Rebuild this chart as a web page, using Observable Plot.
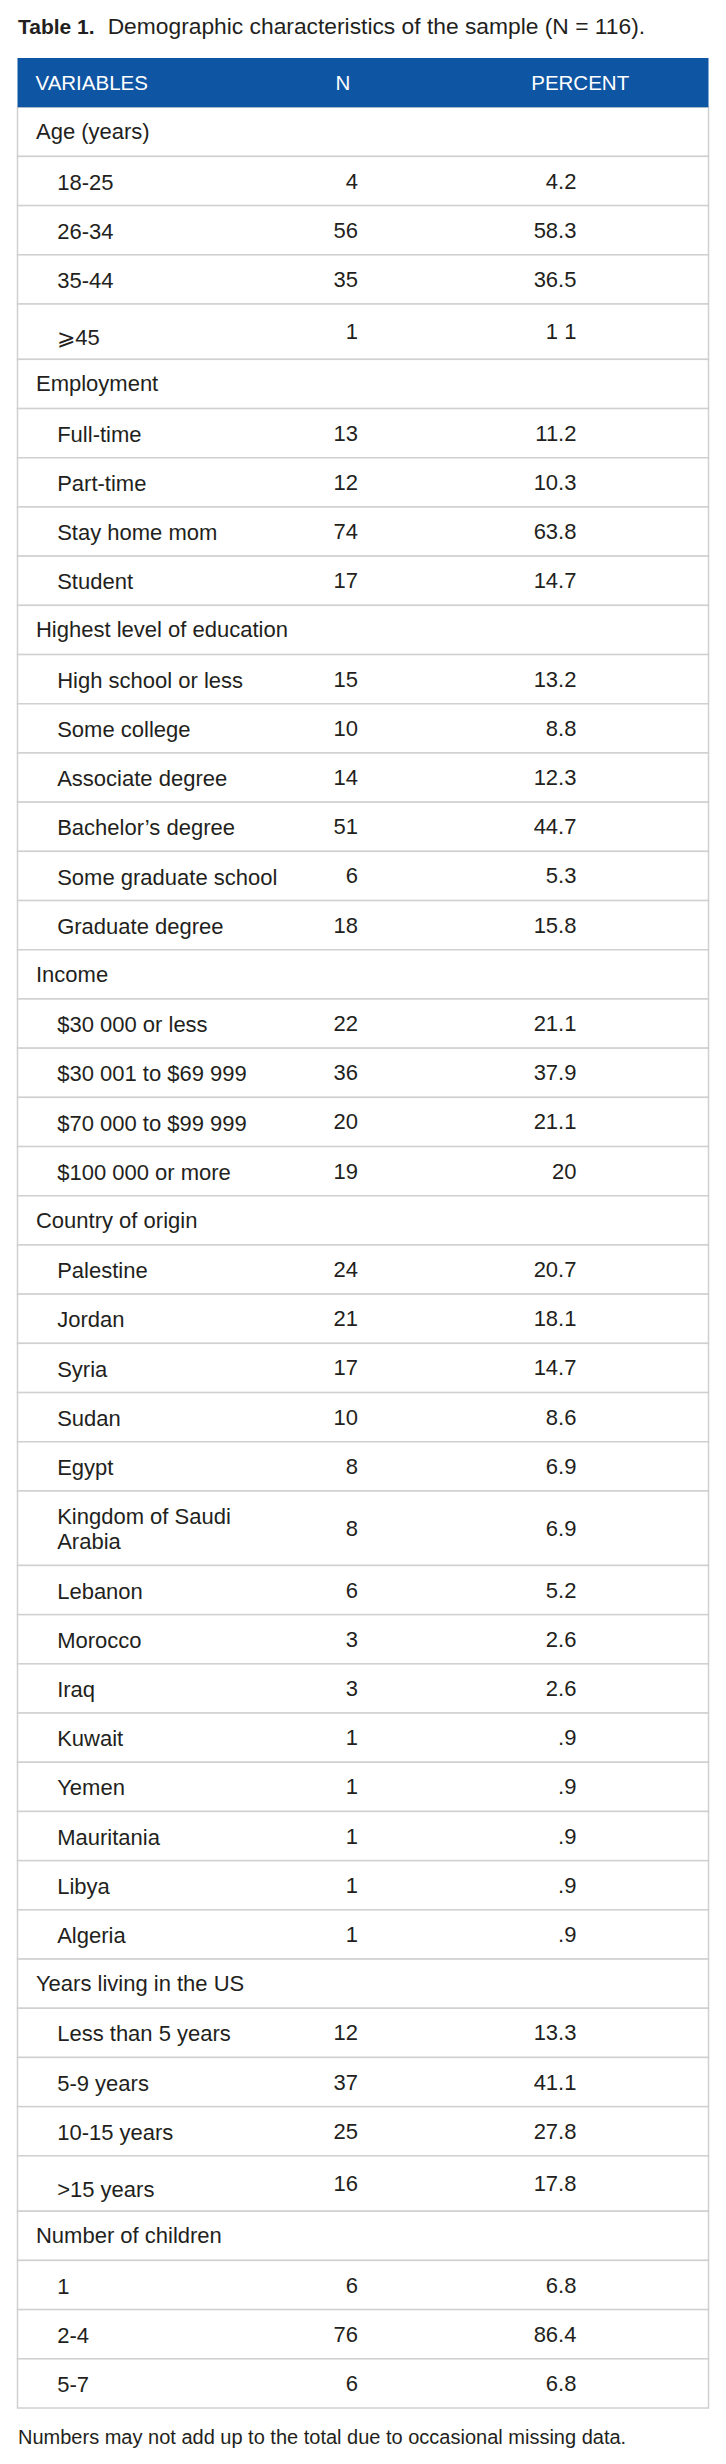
<!DOCTYPE html>
<html>
<head>
<meta charset="utf-8">
<script src="https://cdn.jsdelivr.net/npm/d3@7"></script>
<script src="https://cdn.jsdelivr.net/npm/@observablehq/plot@0.6"></script>
<style>
  html, body { margin: 0; padding: 0; background: #fff; }
  #wrap { position: relative; width: 726px; height: 2464px; font-family: "Liberation Sans", Arial, Helvetica, sans-serif; color: #231f20; }
  #title { position: absolute; left: 18px; top: 14.5px; font-size: 22.8px; line-height: 1; white-space: nowrap; }
  #title b { font-size: 21px; margin-right: 13px; }
  #chart { position: absolute; left: 0; top: 58px; }
  #note { position: absolute; left: 18px; top: 2427px; font-size: 20px; line-height: 1; white-space: nowrap; }
</style>
</head>
<body>
<div id="wrap">
  <div id="title"><b>Table 1.</b>Demographic characteristics of the sample (N = 116).</div>
  <div id="chart"></div>
  <div id="note">Numbers may not add up to the total due to occasional missing data.</div>
</div>
<script>
// ---------------- data ----------------
const headerLabels = ["VARIABLES", "N", "PERCENT"];
const groups = ["Age (years)", "Employment", "Highest level of education", "Income", "Country of origin", "Years living in the US", "Number of children"];

const ageLabels = ["18-25", "26-34", "35-44", "⩾45"];
const ageN = [4, 56, 35, 1];
const agePct = ["4.2", "58.3", "36.5", "1 1"];

const employmentLabels = ["Full-time", "Part-time", "Stay home mom", "Student"];
const employmentN = [13, 12, 74, 17];
const employmentPct = ["11.2", "10.3", "63.8", "14.7"];

const educationLabels = ["High school or less", "Some college", "Associate degree", "Bachelor’s degree", "Some graduate school", "Graduate degree"];
const educationN = [15, 10, 14, 51, 6, 18];
const educationPct = ["13.2", "8.8", "12.3", "44.7", "5.3", "15.8"];

const incomeLabels = ["$30 000 or less", "$30 001 to $69 999", "$70 000 to $99 999", "$100 000 or more"];
const incomeN = [22, 36, 20, 19];
const incomePct = ["21.1", "37.9", "21.1", "20"];

const countryLabels = ["Palestine", "Jordan", "Syria", "Sudan", "Egypt", "Kingdom of Saudi Arabia", "Lebanon", "Morocco", "Iraq", "Kuwait", "Yemen", "Mauritania", "Libya", "Algeria"];
const countryN = [24, 21, 17, 10, 8, 8, 6, 3, 3, 1, 1, 1, 1, 1];
const countryPct = ["20.7", "18.1", "14.7", "8.6", "6.9", "6.9", "5.2", "2.6", "2.6", ".9", ".9", ".9", ".9", ".9"];

const yearsLabels = ["Less than 5 years", "5-9 years", "10-15 years", ">15 years"];
const yearsN = [12, 37, 25, 16];
const yearsPct = ["13.3", "41.1", "27.8", "17.8"];

const childrenLabels = ["1", "2-4", "5-7"];
const childrenN = [6, 76, 6];
const childrenPct = ["6.8", "86.4", "6.8"];

// ---------------- layout ----------------
const FONT = "'Liberation Sans', Arial, Helvetica, sans-serif";
const BODY_SIZE = 22, HEAD_SIZE = 20.5;
const BLUE = "#0e55a4", INK = "#231f20", RULE = "#d0d0d0";
const UNIT_PX = 49.2;              // one row height
const LINE_STEP = 25.3 / UNIT_PX;  // extra height per wrapped line
const MATH_EXTRA = 0.125;          // taller rows with math symbols
const WRAP_PX = 235;               // width of label column for wrapping
// column anchors, in % of table width
const colGroup = 2.6, colItem = 5.67, colNRight = 49.2, colPctRight = 80.82;
const headerX = [2.53, 45.95, 74.27];

const ctx = document.createElement("canvas").getContext("2d");
ctx.font = `${BODY_SIZE}px ${FONT}`;
function wrap(text) {
  const words = text.split(" ");
  const lines = [];
  let cur = "";
  for (const w of words) {
    const t = cur ? cur + " " + w : w;
    if (cur && ctx.measureText(t).width > WRAP_PX) { lines.push(cur); cur = w; }
    else cur = t;
  }
  lines.push(cur);
  return lines;
}

const sections = [
  [ageLabels, ageN, agePct],
  [employmentLabels, employmentN, employmentPct],
  [educationLabels, educationN, educationPct],
  [incomeLabels, incomeN, incomePct],
  [countryLabels, countryN, countryPct],
  [yearsLabels, yearsN, yearsPct],
  [childrenLabels, childrenN, childrenPct]
];

const rows = [];
let pos = 1; // header takes the first unit
groups.forEach((g, gi) => {
  rows.push({type: "group", label: g, y0: pos, y1: pos + 1});
  pos += 1;
  const [labels, ns, pcts] = sections[gi];
  labels.forEach((lab, i) => {
    const lines = wrap(lab);
    const math = /[⩾≥><]/.test(lab);
    const h = 1 + (lines.length - 1) * LINE_STEP + (math ? MATH_EXTRA : 0);
    rows.push({type: "item", label: lines.join("\n"), n: ns[i], pct: pcts[i], math, y0: pos, y1: pos + h});
    pos += h;
  });
});
const total = pos;
const tableH = total * UNIT_PX;
const groupRows = rows.filter(d => d.type === "group");
const itemRows = rows.filter(d => d.type === "item");
const mid = d => (d.y0 + d.y1) / 2;

const chart = Plot.plot({
  width: 726,
  height: Math.ceil(tableH) + 2,
  marginLeft: 17.5,
  marginRight: 17.5,
  marginTop: 0,
  marginBottom: Math.ceil(tableH) + 2 - tableH,
  x: {domain: [0, 100], axis: null},
  y: {domain: [0, total], reverse: true, axis: null},
  style: {fontFamily: FONT, fontSize: BODY_SIZE + "px", color: INK, background: "transparent", overflow: "visible"},
  marks: [
    Plot.rect(rows, {x1: 0, x2: 100, y1: "y0", y2: "y1", fill: "white", stroke: RULE, strokeWidth: 1.5}),
    Plot.rect([headerLabels], {x1: 0, x2: 100, y1: 0, y2: 1, fill: BLUE}),
    Plot.text(headerLabels, {x: (d, i) => headerX[i], y: 0.5, text: d => d, fill: "white", textAnchor: "start", fontSize: HEAD_SIZE}),
    Plot.text(groupRows, {x: colGroup, y: mid, text: "label", fill: INK, textAnchor: "start", fontSize: BODY_SIZE}),
    Plot.text(itemRows, {x: colItem, y: d => mid(d) + (d.math ? 0.09 : 0), text: "label", fill: INK, textAnchor: "start", fontSize: BODY_SIZE, lineHeight: 25.3 / BODY_SIZE}),
    Plot.text(itemRows, {x: colNRight, y: mid, text: d => String(d.n), fill: INK, textAnchor: "end", fontSize: BODY_SIZE}),
    Plot.text(itemRows, {x: colPctRight, y: mid, text: "pct", fill: INK, textAnchor: "end", fontSize: BODY_SIZE})
  ]
});
document.getElementById("chart").appendChild(chart);
</script>
</body>
</html>
